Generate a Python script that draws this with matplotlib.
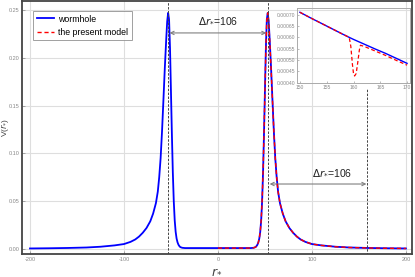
import matplotlib
matplotlib.use("Agg")
import matplotlib.pyplot as plt

# ---- data ----
# wormhole (blue), whole range
r_worm = [-200, -180, -160, -140, -125, -110, -100, -93, -88, -84, -80, -76, -72, -69, -66,
          -64, -62.5, -61, -59.5, -58, -56.5, -55, -54, -53, -52, -51, -50, -49, -48, -47,
          -46, -45, -44, -43, -42, -41, -40, -38, -35, -20, 0,
          20, 35, 38, 40, 41, 42, 43, 44, 45, 46, 47, 48, 49, 50, 51, 52, 53, 54, 55, 56.5,
          58, 59.5, 61, 62.5, 64, 66, 69, 72, 76, 80, 84, 88, 93, 100, 110, 125, 140, 160,
          180, 200]
v_worm = [0.0006, 0.0008, 0.0011, 0.0016, 0.0024, 0.0038, 0.0052, 0.0075, 0.0100, 0.0130,
          0.0170, 0.0220, 0.0290, 0.0370, 0.0480, 0.0600, 0.0750, 0.0950, 0.1230, 0.1560,
          0.1900, 0.2200, 0.2380, 0.2470, 0.2400, 0.2100, 0.1650, 0.1200, 0.0800, 0.0500,
          0.0300, 0.0180, 0.0110, 0.0070, 0.0045, 0.0030, 0.0020, 0.0013, 0.0010, 0.0010,
          0.0010,
          0.0010, 0.0010, 0.0013, 0.0020, 0.0030, 0.0045, 0.0070, 0.0110, 0.0180, 0.0300,
          0.0500, 0.0800, 0.1200, 0.1650, 0.2100, 0.2400, 0.2470, 0.2380, 0.2200, 0.1900,
          0.1560, 0.1230, 0.0950, 0.0750, 0.0600, 0.0480, 0.0370, 0.0290, 0.0220, 0.0170,
          0.0130, 0.0100, 0.0075, 0.0052, 0.0038, 0.0024, 0.0016, 0.0011, 0.0008, 0.0006]

# present model (red), r >= 0
r_model = [0, 20, 35, 38, 40, 41, 42, 43, 44, 45, 46, 47, 48, 49, 50, 51, 52, 53, 54, 55,
           56.5, 58, 59.5, 61, 62.5, 64, 66, 69, 72, 76, 80, 84, 88, 93, 100, 110, 125, 140,
           160, 180, 200]
v_model = [0.0010, 0.0010, 0.0010, 0.0013, 0.0020, 0.0030, 0.0045, 0.0070, 0.0110, 0.0180,
           0.0300, 0.0500, 0.0800, 0.1200, 0.1650, 0.2100, 0.2400, 0.2470, 0.2380, 0.2200,
           0.1900, 0.1560, 0.1230, 0.0950, 0.0750, 0.0600, 0.0480, 0.0370, 0.0290, 0.0220,
           0.0170, 0.0130, 0.0100, 0.0075, 0.0052, 0.0038, 0.0024, 0.0016, 0.0011, 0.0008,
           0.0006]

# inset
r_in_worm = [150, 152, 154, 156, 158, 159.2, 160, 162, 164, 166, 168, 170]
v_in_worm = [0.000711, 0.000686, 0.000662, 0.000638, 0.000614, 0.000600, 0.000591,
             0.000570, 0.000549, 0.000529, 0.000507, 0.000485]
r_in_model = [150, 152, 154, 156, 158, 159.2, 159.5, 159.8, 160.0, 160.2, 160.5, 160.8,
              161.1, 161.3, 162, 164, 166, 168, 170]
v_in_model = [0.000711, 0.000686, 0.000662, 0.000638, 0.000614, 0.000600, 0.000560,
              0.000480, 0.000440, 0.000429, 0.000440, 0.000490, 0.000545, 0.000565,
              0.000560, 0.000540, 0.000520, 0.000498, 0.000477]

peak_positions = [-53, 53, 159]
delta_label = r"$\Delta r_{*}$=106"
x_ticks = [-200, -100, 0, 100, 200]
y_ticks = [0.00, 0.05, 0.10, 0.15, 0.20, 0.25]
inset_x_ticks = [150, 155, 160, 165, 170]
inset_y_ticks = [0.00040, 0.00045, 0.00050, 0.00055, 0.00060, 0.00065, 0.00070]

plt.rcParams['font.family'] = ['Liberation Sans', 'DejaVu Sans']

fig = plt.figure(figsize=(4.15, 2.77), dpi=100)
W, H = 415, 277
ax = fig.add_axes([22 / W, 23 / H, (412 - 22) / W, (276 - 23) / H])

ax.plot(r_worm, v_worm, color='#0000ff', lw=1.3, label='wormhole', zorder=3)
ax.plot(r_model, v_model, color='#ff0000', lw=1.0, ls=(0, (3, 2)),
        label='the present model', zorder=4)

# dashed vertical markers
ax.axvline(peak_positions[0], color='#444444', lw=0.7, ls=(0, (2.5, 1.5)), zorder=5)
ax.axvline(peak_positions[1], color='#444444', lw=0.7, ls=(0, (2.5, 1.5)), zorder=5)
ax.plot([peak_positions[2], peak_positions[2]], [-0.006, 0.168], color='#444444',
        lw=0.7, ls=(0, (2.5, 1.5)), zorder=5)

# arrows
arrow_kw = dict(arrowstyle='<->', color='#808080', lw=0.8, shrinkA=0, shrinkB=0,
                mutation_scale=6)
ax.annotate('', xy=(peak_positions[0] + 1.5, 0.226), xytext=(peak_positions[1] - 1.5, 0.226),
            arrowprops=arrow_kw)
ax.text(0, 0.2385, delta_label, ha='center', va='center', fontsize=7.5, color='#222222')
ax.annotate('', xy=(peak_positions[1] + 2, 0.068), xytext=(peak_positions[2] - 1, 0.068),
            arrowprops=arrow_kw)
ax.text(121, 0.0795, delta_label, ha='center', va='center', fontsize=7.5, color='#222222')

ax.set_xlim(-208.5, 206.5)
ax.set_ylim(-0.0052, 0.2594)
ax.set_xticks(x_ticks)
ax.set_yticks(y_ticks)
ax.set_xticklabels([str(t) for t in x_ticks])
ax.set_yticklabels([f"{t:.2f}" for t in y_ticks])
ax.tick_params(labelsize=4, colors='#888888', length=2, width=0.5, direction='in', pad=2)
ax.grid(True, color='#dedede', lw=0.8, zorder=0)
ax.set_axisbelow(True)
for s in ax.spines.values():
    s.set_color('#444444')
    s.set_linewidth(1.3)

ax.set_xlabel(r"$r_{*}$", fontsize=9, color='#444444', labelpad=2)
ax.set_ylabel(r"V($r_{*}$)", fontsize=6, color='#444444')
ax.yaxis.set_label_coords(-0.027, 0.5)

leg = ax.legend(loc='upper left', bbox_to_anchor=(33 / W, 1 - 11 / H),
                bbox_transform=fig.transFigure, fontsize=6.3, frameon=True,
                fancybox=False, borderpad=0.4, handlelength=2.0, labelspacing=0.5,
                handletextpad=0.5, borderaxespad=0)
leg.get_frame().set_edgecolor('#888888')
leg.get_frame().set_linewidth(0.7)

# inset
axin = fig.add_axes([297 / W, (277 - 83) / H, (410 - 297) / W, (83 - 8) / H])
axin.set_facecolor('none')
axin.plot(r_in_worm, v_in_worm, color='#0000ff', lw=1.0)
axin.plot(r_in_model, v_in_model, color='#ff0000', lw=0.9, ls=(0, (3, 2)))
axin.set_xlim(149.45, 170.55)
axin.set_ylim(0.000398, 0.000730)
axin.set_xticks(inset_x_ticks)
axin.set_yticks(inset_y_ticks)
axin.set_xticklabels([str(t) for t in inset_x_ticks])
axin.set_yticklabels([f"{t:.5f}" for t in inset_y_ticks])
axin.tick_params(labelsize=3.6, colors='#888888', length=1.5, width=0.4, direction='in', pad=1.5)
for s in axin.spines.values():
    s.set_color('#aaaaaa')
    s.set_linewidth(0.7)

fig.savefig('out.png', dpi=100)
